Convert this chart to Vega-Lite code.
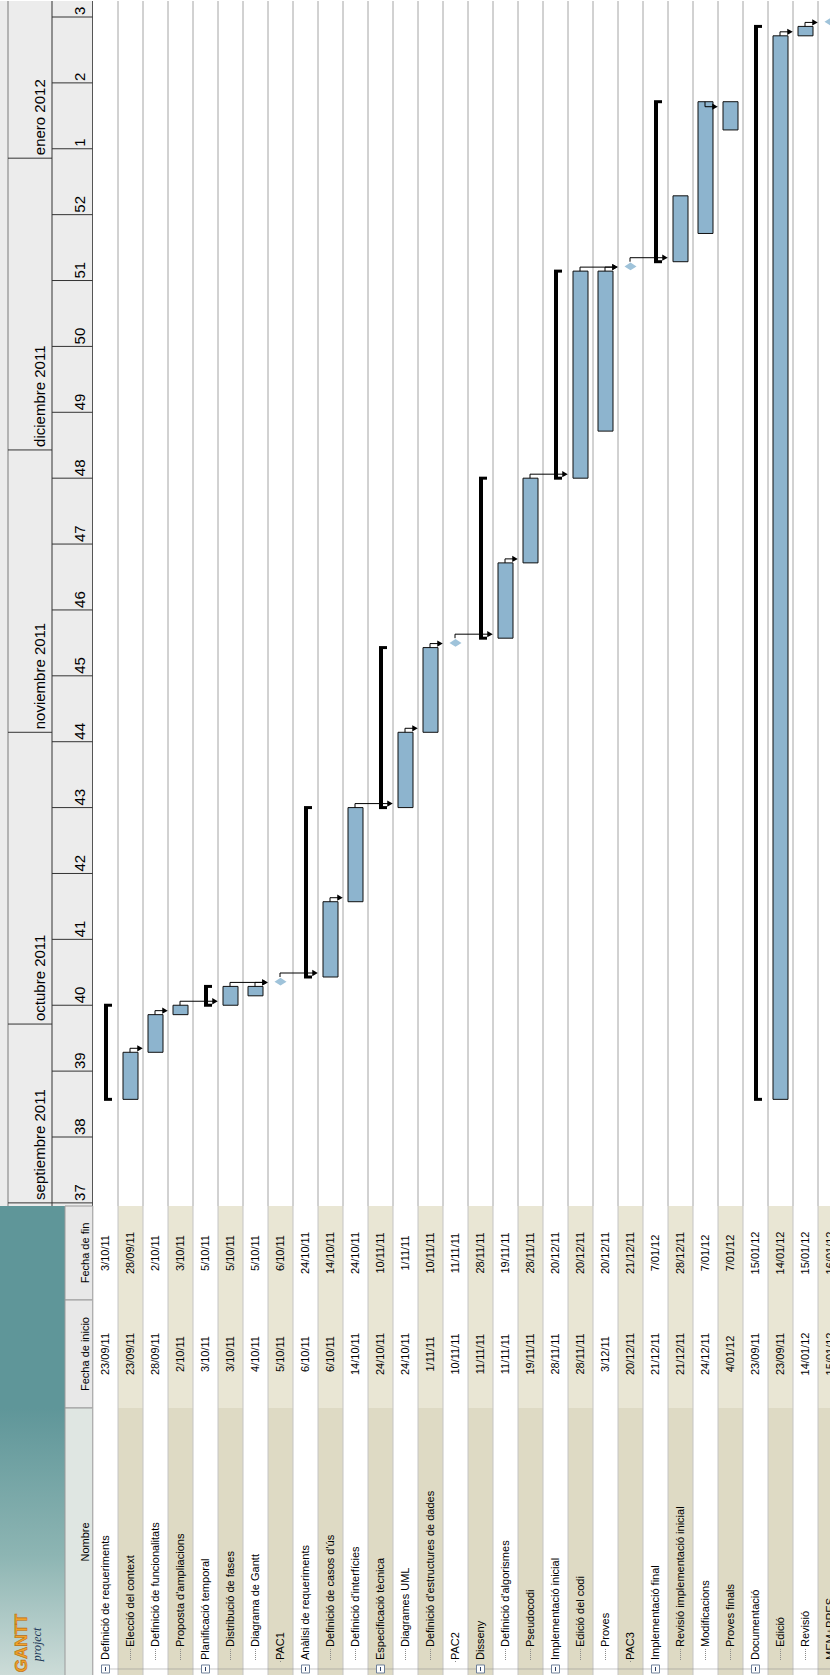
{
  "$schema": "https://vega.github.io/schema/vega-lite/v6.json",
  "padding": 0,
  "spacing": 0,
  "bounds": "flush",
  "background": "#ffffff",
  "config": {"view": {"stroke": null}, "font": "Liberation Sans", "text": {"font": "Liberation Sans"}},
  "resolve": {"scale": {"x": "independent", "y": "independent"}},
  "datasets": {
    "tasks": [
      {"row": 0, "name": "Definició de requeriments", "start": "2011-09-23", "end": "2011-10-03", "kind": "summary", "level": 1},
      {"row": 1, "name": "Elecció del context", "start": "2011-09-23", "end": "2011-09-28", "kind": "task", "level": 2},
      {"row": 2, "name": "Definició de funcionalitats", "start": "2011-09-28", "end": "2011-10-02", "kind": "task", "level": 2},
      {"row": 3, "name": "Proposta d'ampliacions", "start": "2011-10-02", "end": "2011-10-03", "kind": "task", "level": 2},
      {"row": 4, "name": "Planificació temporal", "start": "2011-10-03", "end": "2011-10-05", "kind": "summary", "level": 1},
      {"row": 5, "name": "Distribució de fases", "start": "2011-10-03", "end": "2011-10-05", "kind": "task", "level": 2},
      {"row": 6, "name": "Diagrama de Gantt", "start": "2011-10-04", "end": "2011-10-05", "kind": "task", "level": 2},
      {"row": 7, "name": "PAC1", "start": "2011-10-05", "end": "2011-10-06", "kind": "milestone", "level": 1},
      {"row": 8, "name": "Anàlisi de requeriments", "start": "2011-10-06", "end": "2011-10-24", "kind": "summary", "level": 1},
      {"row": 9, "name": "Definició de casos d'ús", "start": "2011-10-06", "end": "2011-10-14", "kind": "task", "level": 2},
      {"row": 10, "name": "Definició d'interfícies", "start": "2011-10-14", "end": "2011-10-24", "kind": "task", "level": 2},
      {"row": 11, "name": "Especificació tècnica", "start": "2011-10-24", "end": "2011-11-10", "kind": "summary", "level": 1},
      {"row": 12, "name": "Diagrames UML", "start": "2011-10-24", "end": "2011-11-01", "kind": "task", "level": 2},
      {"row": 13, "name": "Definició d'estructures de dades", "start": "2011-11-01", "end": "2011-11-10", "kind": "task", "level": 2},
      {"row": 14, "name": "PAC2", "start": "2011-11-10", "end": "2011-11-11", "kind": "milestone", "level": 1},
      {"row": 15, "name": "Disseny", "start": "2011-11-11", "end": "2011-11-28", "kind": "summary", "level": 1},
      {"row": 16, "name": "Definició d'algorismes", "start": "2011-11-11", "end": "2011-11-19", "kind": "task", "level": 2},
      {"row": 17, "name": "Pseudocodi", "start": "2011-11-19", "end": "2011-11-28", "kind": "task", "level": 2},
      {"row": 18, "name": "Implementació inicial", "start": "2011-11-28", "end": "2011-12-20", "kind": "summary", "level": 1},
      {"row": 19, "name": "Edició del codi", "start": "2011-11-28", "end": "2011-12-20", "kind": "task", "level": 2},
      {"row": 20, "name": "Proves", "start": "2011-12-03", "end": "2011-12-20", "kind": "task", "level": 2},
      {"row": 21, "name": "PAC3", "start": "2011-12-20", "end": "2011-12-21", "kind": "milestone", "level": 1},
      {"row": 22, "name": "Implementació final", "start": "2011-12-21", "end": "2012-01-07", "kind": "summary", "level": 1},
      {"row": 23, "name": "Revisió implementació inicial", "start": "2011-12-21", "end": "2011-12-28", "kind": "task", "level": 2},
      {"row": 24, "name": "Modificacions", "start": "2011-12-24", "end": "2012-01-07", "kind": "task", "level": 2},
      {"row": 25, "name": "Proves finals", "start": "2012-01-04", "end": "2012-01-07", "kind": "task", "level": 2},
      {"row": 26, "name": "Documentació", "start": "2011-09-23", "end": "2012-01-15", "kind": "summary", "level": 1},
      {"row": 27, "name": "Edició", "start": "2011-09-23", "end": "2012-01-14", "kind": "task", "level": 2},
      {"row": 28, "name": "Revisió", "start": "2012-01-14", "end": "2012-01-15", "kind": "task", "level": 2},
      {"row": 29, "name": "MEM+PRES", "start": "2012-01-15", "end": "2012-01-16", "kind": "milestone", "level": 1}
    ],
    "deps": [
      {"from": 1, "to": 2, "date": "2011-09-28", "type": "FS"},
      {"from": 2, "to": 3, "date": "2011-10-02", "type": "FS"},
      {"from": 3, "to": 5, "date": "2011-10-03", "type": "FS"},
      {"from": 5, "to": 7, "date": "2011-10-05", "type": "FS"},
      {"from": 6, "to": 7, "date": "2011-10-05", "type": "FS"},
      {"from": 7, "to": 9, "date": "2011-10-06", "type": "FS"},
      {"from": 9, "to": 10, "date": "2011-10-14", "type": "FS"},
      {"from": 10, "to": 12, "date": "2011-10-24", "type": "FS"},
      {"from": 12, "to": 13, "date": "2011-11-01", "type": "FS"},
      {"from": 13, "to": 14, "date": "2011-11-10", "type": "FS"},
      {"from": 14, "to": 16, "date": "2011-11-11", "type": "FS"},
      {"from": 16, "to": 17, "date": "2011-11-19", "type": "FS"},
      {"from": 17, "to": 19, "date": "2011-11-28", "type": "FS"},
      {"from": 19, "to": 21, "date": "2011-12-20", "type": "FS"},
      {"from": 20, "to": 21, "date": "2011-12-20", "type": "FS"},
      {"from": 21, "to": 23, "date": "2011-12-21", "type": "FS"},
      {"from": 24, "to": 25, "date": "2012-01-07", "type": "FF"},
      {"from": 27, "to": 28, "date": "2012-01-14", "type": "FS"},
      {"from": 28, "to": 29, "date": "2012-01-15", "type": "FS"}
    ],
    "weeks": [
      {"wk": "37", "date": "2011-09-12"}, {"wk": "38", "date": "2011-09-19"}, {"wk": "39", "date": "2011-09-26"},
      {"wk": "40", "date": "2011-10-03"}, {"wk": "41", "date": "2011-10-10"}, {"wk": "42", "date": "2011-10-17"},
      {"wk": "43", "date": "2011-10-24"}, {"wk": "44", "date": "2011-10-31"}, {"wk": "45", "date": "2011-11-07"},
      {"wk": "46", "date": "2011-11-14"}, {"wk": "47", "date": "2011-11-21"}, {"wk": "48", "date": "2011-11-28"},
      {"wk": "49", "date": "2011-12-05"}, {"wk": "50", "date": "2011-12-12"}, {"wk": "51", "date": "2011-12-19"},
      {"wk": "52", "date": "2011-12-26"}, {"wk": "1", "date": "2012-01-02"}, {"wk": "2", "date": "2012-01-09"},
      {"wk": "3", "date": "2012-01-16"}
    ],
    "months": [
      {"month": "septiembre 2011", "date": "2011-09-12"},
      {"month": "octubre 2011", "date": "2011-10-01"},
      {"month": "noviembre 2011", "date": "2011-11-01"},
      {"month": "diciembre 2011", "date": "2011-12-01"},
      {"month": "enero 2012", "date": "2012-01-01"}
    ]
  },
  "vconcat": [
    {
      "width": 830,
      "height": 1205,
      "layer": [
        {"data": {"values": [{}]}, "mark": {"type": "rect", "fill": "#ececec"},
         "encoding": {"x": {"datum": -3.72, "type": "quantitative", "scale": {"domain": [-3.72, 29.48], "nice": false, "zero": false}, "axis": null}, "x2": {"datum": -0.02}}},
        {"data": {"name": "tasks"}, "transform": [{"filter": "datum.row >= 1"}], "mark": {"type": "rule", "color": "#a4a4a4", "strokeWidth": 1},
         "encoding": {"x": {"field": "row", "type": "quantitative"}}},
        {"data": {"values": [{}]}, "mark": {"type": "rule", "color": "#7a7a7a", "strokeWidth": 1}, "encoding": {"x": {"datum": -3.4, "type": "quantitative"}}},
        {"data": {"values": [{}]}, "mark": {"type": "rule", "color": "#333333", "strokeWidth": 1}, "encoding": {"x": {"datum": -1.64, "type": "quantitative"}}},
        {"data": {"values": [{}]}, "mark": {"type": "rule", "color": "#555555", "strokeWidth": 1}, "encoding": {"x": {"datum": -0.02, "type": "quantitative"}}},
        {"data": {"name": "weeks"}, "mark": {"type": "rule", "color": "#333333", "strokeWidth": 1},
         "encoding": {"x": {"datum": -1.64, "type": "quantitative"}, "x2": {"datum": -0.02},
                      "y": {"field": "date", "type": "temporal", "axis": null, "scale": {"type": "utc", "nice": false, "domain": [{"year": 2011, "month": 9, "date": 11, "hours": 16, "minutes": 3, "utc": true}, {"year": 2012, "month": 1, "date": 17, "hours": 16, "minutes": 48, "utc": true}]}}}},
        {"data": {"name": "months"}, "mark": {"type": "rule", "color": "#333333", "strokeWidth": 1},
         "encoding": {"x": {"datum": -3.4, "type": "quantitative"}, "x2": {"datum": -1.64}, "y": {"field": "date", "type": "temporal"}}},
        {"data": {"name": "weeks"}, "mark": {"type": "text", "angle": 270, "align": "left", "baseline": "middle", "dx": 2, "fontSize": 15, "color": "#000000", "clip": true},
         "encoding": {"x": {"datum": -0.52, "type": "quantitative"}, "y": {"field": "date", "type": "temporal"}, "text": {"field": "wk"}}},
        {"data": {"name": "months"}, "mark": {"type": "text", "angle": 270, "align": "left", "baseline": "middle", "dx": 3, "fontSize": 15, "color": "#000000", "clip": true},
         "encoding": {"x": {"datum": -2.12, "type": "quantitative"}, "y": {"field": "date", "type": "temporal"}, "text": {"field": "month"}}},
        {"data": {"name": "tasks"}, "transform": [{"filter": "datum.kind == 'summary'"}], "mark": {"type": "rule", "color": "#000000", "strokeWidth": 4, "xOffset": 13},
         "encoding": {"x": {"field": "row", "type": "quantitative"}, "y": {"field": "start", "type": "temporal"}, "y2": {"field": "end"}}},
        {"data": {"name": "tasks"}, "transform": [{"filter": "datum.kind == 'summary'"}], "mark": {"type": "rule", "color": "#000000", "strokeWidth": 3, "xOffset": 11, "x2Offset": 19},
         "encoding": {"x": {"field": "row", "type": "quantitative"}, "x2": {"field": "row"}, "y": {"field": "start", "type": "temporal"}}},
        {"data": {"name": "tasks"}, "transform": [{"filter": "datum.kind == 'summary'"}], "mark": {"type": "rule", "color": "#000000", "strokeWidth": 3, "xOffset": 11, "x2Offset": 19},
         "encoding": {"x": {"field": "row", "type": "quantitative"}, "x2": {"field": "row"}, "y": {"field": "end", "type": "temporal"}}},
        {"data": {"name": "tasks"}, "transform": [{"filter": "datum.kind == 'task'"}], "mark": {"type": "rect", "fill": "#8db4ce", "stroke": "#111111", "strokeWidth": 1, "xOffset": 5, "x2Offset": 20},
         "encoding": {"x": {"field": "row", "type": "quantitative"}, "x2": {"field": "row"}, "y": {"field": "start", "type": "temporal"}, "y2": {"field": "end"}}},
        {"data": {"name": "tasks"}, "transform": [{"filter": "datum.kind == 'milestone'"}], "mark": {"type": "point", "filled": true, "fill": "#9fc3da", "strokeWidth": 0, "opacity": 1, "shape": "M-1,0L0,-0.65L1,0L0,0.65Z", "size": 144, "xOffset": 12.5, "yOffset": -4.7, "clip": true},
         "encoding": {"x": {"field": "row", "type": "quantitative"}, "y": {"field": "start", "type": "temporal"}}},
        {"data": {"name": "deps"}, "transform": [{"filter": "datum.type == 'FS'"}], "mark": {"type": "rule", "color": "#000000", "strokeWidth": 1, "xOffset": 12, "y2Offset": -4},
         "encoding": {"x": {"field": "from", "type": "quantitative"}, "y": {"field": "date", "type": "temporal"}, "y2": {"field": "date"}}},
        {"data": {"name": "deps"}, "transform": [{"filter": "datum.type == 'FS'"}], "mark": {"type": "rule", "color": "#000000", "strokeWidth": 1, "xOffset": 12, "x2Offset": -5, "yOffset": -4},
         "encoding": {"x": {"field": "from", "type": "quantitative"}, "x2": {"field": "to"}, "y": {"field": "date", "type": "temporal"}}},
        {"data": {"name": "deps"}, "transform": [{"filter": "datum.type == 'FS'"}], "mark": {"type": "point", "shape": "triangle-right", "filled": true, "fill": "#000000", "strokeWidth": 0, "opacity": 1, "size": 40, "xOffset": -3, "yOffset": -4, "clip": true},
         "encoding": {"x": {"field": "to", "type": "quantitative"}, "y": {"field": "date", "type": "temporal"}}},
        {"data": {"name": "deps"}, "transform": [{"filter": "datum.type == 'FF'"}], "mark": {"type": "rule", "color": "#000000", "strokeWidth": 1, "xOffset": 12, "y2Offset": 5},
         "encoding": {"x": {"field": "from", "type": "quantitative"}, "y": {"field": "date", "type": "temporal"}, "y2": {"field": "date"}}},
        {"data": {"name": "deps"}, "transform": [{"filter": "datum.type == 'FF'"}], "mark": {"type": "rule", "color": "#000000", "strokeWidth": 1, "xOffset": 12, "x2Offset": -5, "yOffset": 5},
         "encoding": {"x": {"field": "from", "type": "quantitative"}, "x2": {"field": "to"}, "y": {"field": "date", "type": "temporal"}}},
        {"data": {"name": "deps"}, "transform": [{"filter": "datum.type == 'FF'"}], "mark": {"type": "point", "shape": "triangle-right", "filled": true, "fill": "#000000", "strokeWidth": 0, "opacity": 1, "size": 40, "xOffset": -3, "yOffset": 5},
         "encoding": {"x": {"field": "to", "type": "quantitative"}, "y": {"field": "date", "type": "temporal"}}}
      ]
    },
    {
      "width": 830,
      "height": 94,
      "layer": [
        {"data": {"values": [{}]}, "mark": {"type": "rect", "fill": "#5f9699"},
         "encoding": {"x": {"datum": -3.72, "type": "quantitative", "scale": {"domain": [-3.72, 29.48], "nice": false, "zero": false}, "axis": null}, "x2": {"datum": -1.12}}},
        {"data": {"values": [{}]}, "mark": {"type": "rect", "fill": "#e8e8e8", "stroke": "#9a9a9a", "strokeWidth": 1},
         "encoding": {"x": {"datum": -1.12, "type": "quantitative"}, "x2": {"datum": -0.02}}},
        {"data": {"name": "tasks"}, "transform": [{"filter": "datum.row % 2 == 1"}], "mark": {"type": "rect", "fill": "#e9e6d4", "x2Offset": 25, "clip": true},
         "encoding": {"x": {"field": "row", "type": "quantitative"}, "x2": {"field": "row"}}},
        {"data": {"name": "tasks"}, "mark": {"type": "rule", "color": "#c4c4c4", "strokeWidth": 1},
         "encoding": {"x": {"field": "row", "type": "quantitative"}}},
        {"data": {"values": [{"h": "Fecha de fin"}]}, "mark": {"type": "text", "angle": 270, "align": "center", "baseline": "middle", "fontSize": 11, "color": "#000000"},
         "encoding": {"x": {"datum": -0.3, "type": "quantitative"}, "text": {"field": "h"}}},
        {"data": {"name": "tasks"}, "mark": {"type": "text", "angle": 270, "align": "center", "baseline": "middle", "fontSize": 11, "color": "#000000", "xOffset": 12.5, "clip": true},
         "encoding": {"x": {"field": "row", "type": "quantitative"}, "text": {"field": "end", "type": "temporal", "timeUnit": "utcyearmonthdate", "format": "%-d/%m/%y"}}}
      ]
    },
    {
      "width": 830,
      "height": 108,
      "layer": [
        {"data": {"values": [{}]}, "mark": {"type": "rect", "fill": "#5f9699"},
         "encoding": {"x": {"datum": -3.72, "type": "quantitative", "scale": {"domain": [-3.72, 29.48], "nice": false, "zero": false}, "axis": null}, "x2": {"datum": -1.12}}},
        {"data": {"values": [{}]}, "mark": {"type": "rect", "fill": "#e8e8e8", "stroke": "#9a9a9a", "strokeWidth": 1},
         "encoding": {"x": {"datum": -1.12, "type": "quantitative"}, "x2": {"datum": -0.02}}},
        {"data": {"name": "tasks"}, "transform": [{"filter": "datum.row % 2 == 1"}], "mark": {"type": "rect", "fill": "#e9e6d4", "x2Offset": 25, "clip": true},
         "encoding": {"x": {"field": "row", "type": "quantitative"}, "x2": {"field": "row"}}},
        {"data": {"name": "tasks"}, "mark": {"type": "rule", "color": "#c4c4c4", "strokeWidth": 1},
         "encoding": {"x": {"field": "row", "type": "quantitative"}}},
        {"data": {"values": [{"h": "Fecha de inicio"}]}, "mark": {"type": "text", "angle": 270, "align": "center", "baseline": "middle", "fontSize": 11, "color": "#000000"},
         "encoding": {"x": {"datum": -0.3, "type": "quantitative"}, "text": {"field": "h"}}},
        {"data": {"name": "tasks"}, "mark": {"type": "text", "angle": 270, "align": "center", "baseline": "middle", "fontSize": 11, "color": "#000000", "xOffset": 12.5, "clip": true},
         "encoding": {"x": {"field": "row", "type": "quantitative"}, "text": {"field": "start", "type": "temporal", "timeUnit": "utcyearmonthdate", "format": "%-d/%m/%y"}}}
      ]
    },
    {
      "width": 830,
      "height": 268,
      "layer": [
        {"data": {"values": [{}]}, "mark": {"type": "rect", "fill": {"gradient": "linear", "x1": 0, "y1": 0, "x2": 0, "y2": 1, "stops": [{"offset": 0, "color": "#5f9699"}, {"offset": 0.55, "color": "#8db5b3"}, {"offset": 1, "color": "#cddcd8"}]}},
         "encoding": {"x": {"datum": -3.72, "type": "quantitative", "scale": {"domain": [-3.72, 29.48], "nice": false, "zero": false}, "axis": null}, "x2": {"datum": -1.12}}},
        {"data": {"values": [{}]}, "mark": {"type": "rect", "fill": "#dfe6e2", "stroke": "#9a9a9a", "strokeWidth": 1},
         "encoding": {"x": {"datum": -1.12, "type": "quantitative"}, "x2": {"datum": -0.02}}},
        {"data": {"name": "tasks"}, "transform": [{"filter": "datum.row % 2 == 1"}], "mark": {"type": "rect", "fill": "#dedac4", "x2Offset": 25, "clip": true},
         "encoding": {"x": {"field": "row", "type": "quantitative"}, "x2": {"field": "row"}}},
        {"data": {"name": "tasks"}, "mark": {"type": "rule", "color": "#c4c4c4", "strokeWidth": 1},
         "encoding": {"x": {"field": "row", "type": "quantitative"}}},
        {"data": {"values": [{"h": "Nombre"}]}, "mark": {"type": "text", "angle": 270, "align": "center", "baseline": "middle", "fontSize": 11, "color": "#000000"},
         "encoding": {"x": {"datum": -0.3, "type": "quantitative"}, "text": {"field": "h"}}},
        {"data": {"values": [{}]}, "mark": {"type": "rule", "color": "#8a8a8a", "strokeWidth": 1, "strokeDash": [1, 1], "yOffset": 9},
         "encoding": {"x": {"datum": 0.5, "type": "quantitative"}, "x2": {"datum": 29.5}, "y": {"datum": 1, "type": "quantitative", "axis": null, "scale": {"domain": [-0.231, 20.385], "nice": false, "zero": false}}}},
        {"data": {"name": "tasks"}, "transform": [{"filter": "datum.kind != 'summary'"}], "mark": {"type": "rule", "color": "#8a8a8a", "strokeWidth": 1, "strokeDash": [1, 1], "xOffset": 12.5, "yOffset": 2, "clip": true},
         "encoding": {"x": {"field": "row", "type": "quantitative"}, "y": {"field": "level", "type": "quantitative"}, "y2": {"datum": 1}}},
        {"data": {"name": "tasks"}, "transform": [{"filter": "datum.kind == 'summary'"}], "mark": {"type": "point", "shape": "square", "filled": true, "fill": "#ffffff", "stroke": "#6d7f99", "strokeWidth": 1, "opacity": 1, "size": 64, "xOffset": 12.5, "yOffset": 9},
         "encoding": {"x": {"field": "row", "type": "quantitative"}, "y": {"field": "level", "type": "quantitative"}}},
        {"data": {"name": "tasks"}, "transform": [{"filter": "datum.kind == 'summary'"}], "mark": {"type": "rule", "color": "#2b3f66", "strokeWidth": 1, "xOffset": 12.5, "yOffset": 7, "y2Offset": 11},
         "encoding": {"x": {"field": "row", "type": "quantitative"}, "y": {"field": "level", "type": "quantitative"}, "y2": {"field": "level"}}},
        {"data": {"name": "tasks"}, "mark": {"type": "text", "angle": 270, "align": "left", "baseline": "middle", "fontSize": 11, "color": "#000000", "xOffset": 12.5, "clip": true},
         "encoding": {"x": {"field": "row", "type": "quantitative"}, "y": {"field": "level", "type": "quantitative"}, "text": {"field": "name"}}},
        {"data": {"values": [{"t": "GANTT"}]}, "mark": {"type": "text", "angle": 270, "align": "left", "baseline": "middle", "fontSize": 17, "fontWeight": "bold", "color": "#f2a22a", "stroke": "#b86e12", "strokeWidth": 0.6},
         "encoding": {"x": {"datum": -2.84, "type": "quantitative"}, "y": {"datum": 0.05, "type": "quantitative"}, "text": {"field": "t"}}},
        {"data": {"values": [{"t": "project"}]}, "mark": {"type": "text", "angle": 270, "align": "left", "baseline": "middle", "fontSize": 12, "fontStyle": "italic", "font": "Liberation Serif", "color": "#1e3a5a"},
         "encoding": {"x": {"datum": -2.24, "type": "quantitative"}, "y": {"datum": 0.9, "type": "quantitative"}, "text": {"field": "t"}}}
      ]
    }
  ]
}
